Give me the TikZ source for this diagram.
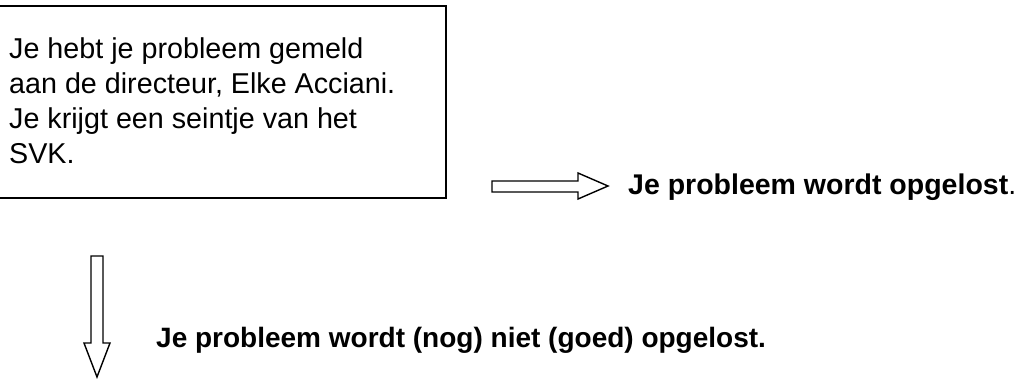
\documentclass[tikz,border=0pt]{standalone}
\usepackage{fontspec}
\setmainfont{Liberation Sans}
\begin{document}
\begin{tikzpicture}[x=1pt,y=-1pt,
  boxstyle/.style={draw=black, line width=2pt, rectangle, inner sep=0pt},
  msgstyle/.style={font=\fontsize{28.7}{35}\selectfont, align=left, inner sep=0pt},
  outcome/.style={font=\fontsize{28.5}{34}\selectfont\bfseries, inner sep=0pt},
  hollowarrow/.style={draw=black, line width=1.4pt, fill=white, line join=miter}
]
\useasboundingbox (0,0) rectangle (1026,378);
% box
\node[boxstyle, minimum width=448pt, minimum height=192pt, anchor=north west] (box) at (-3,5) {};
\node[msgstyle, anchor=base west] (msg) at (9,163) {Je hebt je probleem gemeld\\aan de directeur, Elke Acciani.\\Je krijgt een seintje van het\\SVK.};
% right arrow
\draw[hollowarrow] (492,181) -- (578,181) -- (578,173) -- (608,186) -- (578,199) -- (578,192) -- (492,192) -- cycle;
\node[outcome, anchor=base west] (ok) at (628,194) {Je probleem wordt opgelost\textmd{.}};
% down arrow
\draw[hollowarrow] (91,256) -- (103,256) -- (103,343) -- (110,343) -- (97,377) -- (84,343) -- (91,343) -- cycle;
\node[outcome, font=\fontsize{28}{34}\selectfont\bfseries, anchor=base west] (notok) at (156,347) {Je probleem wordt (nog) niet (goed) opgelost.};
\end{tikzpicture}
\end{document}
